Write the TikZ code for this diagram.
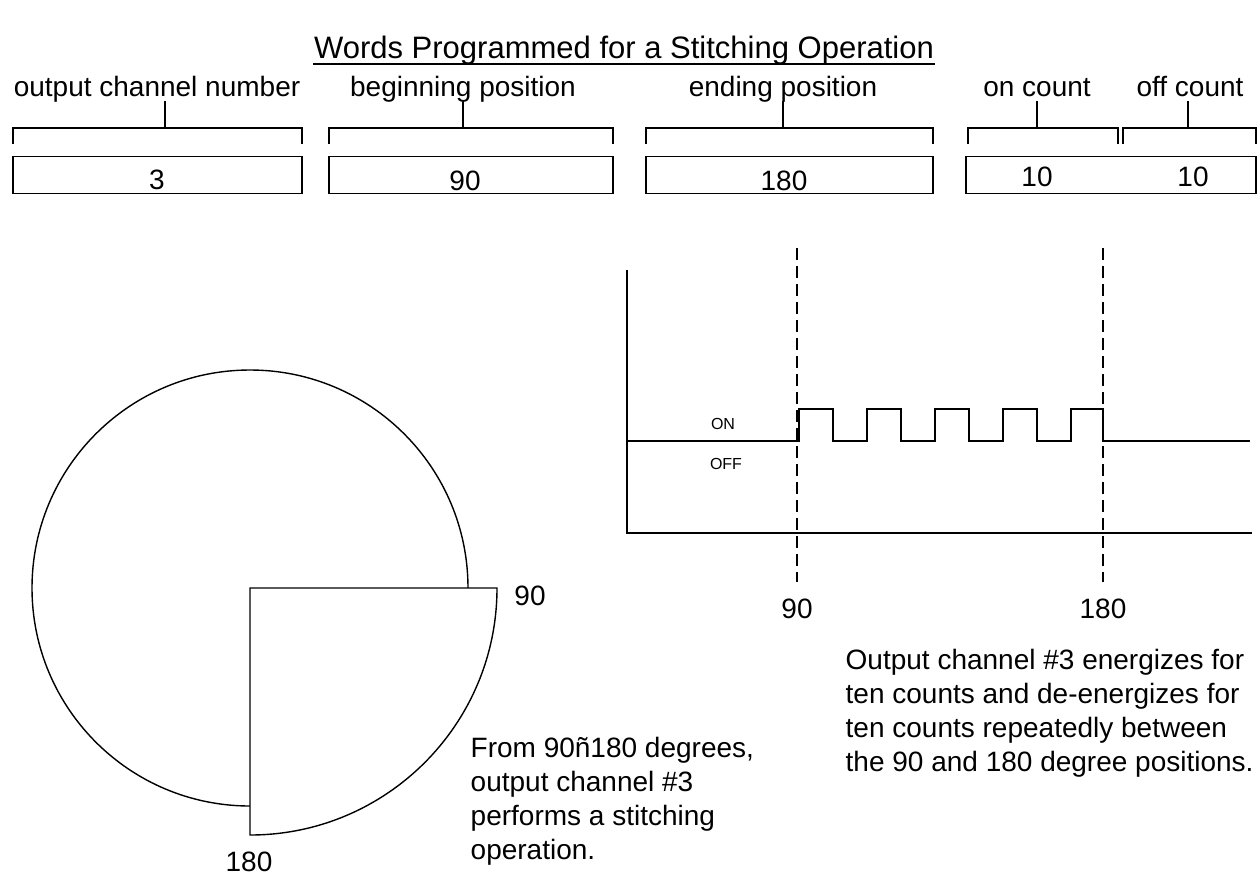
\documentclass[tikz,border=0pt]{standalone}
\usepackage{fontspec}
\setmainfont{Liberation Sans}
\begin{document}
\begin{tikzpicture}[x=1pt,y=-1pt,line width=1.4pt,
  lbl/.style={font=\fontsize{28}{34}\selectfont, inner sep=0pt},
  para/.style={font=\fontsize{28}{34}\selectfont, inner sep=0pt, align=left, anchor=north west},
  smalllbl/.style={font=\fontsize{16}{20}\selectfont, inner sep=0pt},
  field/.style={draw, minimum height=37pt, inner sep=0pt},
  dashline/.style={dash pattern=on 12pt off 6pt}]
\useasboundingbox (0,0) rectangle (1260,876);
% title
\node[font=\fontsize{31}{37}\selectfont, inner sep=0pt, anchor=base] (title) at (624,58) {Words Programmed for a Stitching Operation};
\path (title.base west) ++(0,6) coordinate (ul1) (title.base east) ++(0,6) coordinate (ul2);
\draw[line width=2pt] (ul1) -- (ul2);
% labels
\node[lbl, anchor=base] (l1) at (157,96) {output channel number};
\node[lbl, anchor=base] (l2) at (463,96) {beginning position};
\node[lbl, anchor=base] (l3) at (783,96) {ending position};
\node[lbl, anchor=base] (l4) at (1037,96) {on count};
\node[lbl, anchor=base] (l5) at (1190,96) {off count};
% brackets
\draw (13,144) |- (302,128) -- (302,144); \draw (165,128) -- (165,101);
\draw (329,144) |- (613,128) -- (613,144); \draw (463,128) -- (463,101);
\draw (646,144) |- (933,128) -- (933,144); \draw (783,128) -- (783,101);
\draw (968,144) |- (1118,128) -- (1118,144); \draw (1037,128) -- (1037,101);
\draw (1123,144) |- (1256,128) -- (1256,144); \draw (1188,128) -- (1188,101);
% boxes
\node[field, minimum width=289pt] (b1) at (157.5,175) {};
\node[field, minimum width=284pt] (b2) at (471,175) {};
\node[field, minimum width=287pt] (b3) at (789.5,175) {};
\node[field, minimum width=290pt] (b4) at (1111,175) {};
\node[lbl, anchor=base] (v1) at (157,189) {3};
\node[lbl, anchor=base] (v2) at (465,190) {90};
\node[lbl, anchor=base] (v3) at (784,190) {180};
\node[lbl, anchor=base] (v4) at (1037,186) {10};
\node[lbl, anchor=base] (v5) at (1193,186) {10};
% circle and sector
\coordinate (C) at (250,588);
\draw (C) circle[radius=218];
\draw[fill=white] (C) -- ++(0:247) arc[start angle=0, end angle=90, radius=247] -- cycle;
\node[lbl] (c90) at (530,596) {90};
\node[lbl] (c180) at (249,862) {180};
\node[para] (ptext) at (470,736) {From 90ñ180 degrees,\\output channel \#3\\performs a stitching\\operation.};
% waveform
\coordinate (ax0) at (627,533);
\draw (627,270) -- (ax0) -- (1252,533);
\draw[dashline] (797,248) -- (797,582);
\draw[dashline] (1103,248) -- (1103,582);
\draw (627,441) -- (799,441)
  -- (799,409) -- (833,409) -- (833,441) -- (867,441)
  -- (867,409) -- (901,409) -- (901,441) -- (935,441)
  -- (935,409) -- (969,409) -- (969,441) -- (1003,441)
  -- (1003,409) -- (1037,409) -- (1037,441) -- (1071,441)
  -- (1071,409) -- (1103,409) -- (1103,441) -- (1250,441);
\node[smalllbl] (on) at (723,424) {ON};
\node[smalllbl] (off) at (726,464) {OFF};
\node[lbl] (w90) at (797,609) {90};
\node[lbl] (w180) at (1103,609) {180};
\node[para] (wtext) at (845,648) {Output channel \#3 energizes for\\ten counts and de-energizes for\\ten counts repeatedly between\\the 90 and 180 degree positions.};
\end{tikzpicture}
\end{document}
